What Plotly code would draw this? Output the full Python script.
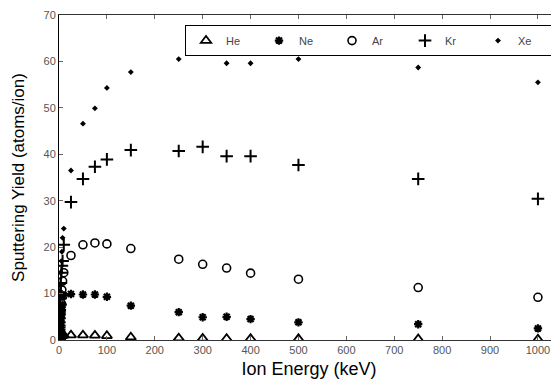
import plotly.graph_objects as go

# Energies (keV)
low_E = [0.05, 0.1, 0.15, 0.2, 0.3, 0.4, 0.5, 0.6, 0.75, 1, 1.25, 1.5, 2, 2.5, 3, 4, 5, 6, 7.5, 10]
high_E = [25, 50, 75, 100, 150, 250, 300, 350, 400, 500, 750, 1000]
xe_high_E = [25, 50, 75, 100, 150, 250, 350, 400, 500, 750, 1000]

he_low = [0.02, 0.04, 0.06, 0.08, 0.12, 0.16, 0.2, 0.24, 0.3, 0.38, 0.45, 0.5, 0.6, 0.68, 0.75, 0.85, 0.9, 0.95, 1.0, 1.05]
he_high = [1.05, 1.05, 1.0, 0.9, 0.6, 0.4, 0.35, 0.3, 0.3, 0.25, 0.2, 0.15]

ne_low = [0.1, 0.2, 0.3, 0.4, 0.6, 0.8, 1.0, 1.2, 1.5, 1.9, 2.3, 2.6, 3.2, 3.7, 4.2, 5.0, 5.8, 6.5, 7.6, 9.6]
ne_high = [9.9, 9.8, 9.8, 9.3, 7.4, 6.0, 4.9, 5.0, 4.5, 3.8, 3.4, 2.5]

ar_low = [0.2, 0.4, 0.6, 0.8, 1.1, 1.4, 1.7, 2.0, 2.5, 3.1, 3.6, 4.1, 5.0, 5.8, 6.6, 8.0, 9.5, 10.8, 12.7, 14.5]
ar_high = [18.2, 20.5, 20.9, 20.7, 19.7, 17.4, 16.3, 15.5, 14.4, 13.1, 11.3, 9.2]

kr_low = [0.3, 0.6, 0.9, 1.2, 1.7, 2.2, 2.7, 3.1, 3.8, 4.7, 5.5, 6.3, 7.7, 8.9, 10.1, 12.3, 14.5, 16.0, 17.0, 20.5]
kr_high = [29.7, 34.7, 37.3, 38.9, 40.9, 40.7, 41.6, 39.6, 39.6, 37.7, 34.7, 30.4]

xe_low = [0.4, 0.7, 1.1, 1.5, 2.1, 2.7, 3.3, 3.8, 4.6, 5.7, 6.7, 7.6, 9.2, 10.6, 12.0, 14.5, 17.0, 19.0, 22.0, 24.0]
xe_high = [36.5, 46.6, 49.9, 54.3, 57.7, 60.5, 59.6, 59.6, 60.5, 58.7, 55.5]

series = [
    ("He", low_E + high_E, he_low + he_high, dict(symbol="triangle-up-open", size=9, line=dict(width=1.8, color="black"))),
    ("Ne", low_E + high_E, ne_low + ne_high, dict(symbol="asterisk-open", size=7, line=dict(width=2.2, color="black"))),
    ("Ar", low_E + high_E, ar_low + ar_high, dict(symbol="circle-open", size=8, line=dict(width=1.6, color="black"))),
    ("Kr", low_E + high_E, kr_low + kr_high, dict(symbol="cross-thin-open", size=9, line=dict(width=2, color="black"))),
    ("Xe", low_E + xe_high_E, xe_low + xe_high, dict(symbol="diamond", size=4.5, line=dict(width=0, color="black"))),
]

fig = go.Figure()
for name, x, y, m in series:
    fig.add_trace(go.Scatter(x=x, y=y, mode="markers", name=name, marker=dict(color="black", **m)))

# page body has an 8px margin, so the figure is sized to fit the 559x381 window
fig.update_layout(
    width=551, height=373,
    margin=dict(l=51, r=0, t=7, b=41),
    paper_bgcolor="white", plot_bgcolor="white",
    font=dict(family="Liberation Sans, Arial", color="black"),
    showlegend=True,
    legend=dict(
        orientation="h", x=0.986, y=0.969, xanchor="right", yanchor="top",
        bordercolor="black", borderwidth=1, bgcolor="white",
        font=dict(size=11, color="#444"),
        entrywidth=28, entrywidthmode="pixels", itemwidth=30,
        tracegroupgap=0,
    ),
    xaxis=dict(
        range=[0, 1044], tickvals=list(range(0, 1001, 100)),
        ticks="inside", ticklen=4, tickcolor="#666", showgrid=False, zeroline=False,
        showline=True, linecolor="#333", linewidth=1, mirror="ticks",
        tickfont=dict(size=11, color="#555"),
        automargin=False,
        title=dict(text="Ion Energy (keV)", font=dict(size=18, color="black"), standoff=7),
    ),
    yaxis=dict(
        range=[0, 70], tickvals=list(range(0, 71, 10)),
        ticks="inside", ticklen=4, tickcolor="#666", showgrid=False, zeroline=False,
        showline=True, linecolor="black", linewidth=1,
        tickfont=dict(size=11, color="#555"),
        automargin=False,
        title=dict(text="Sputtering Yield (atoms/ion)", font=dict(size=17, color="black"), standoff=14),
    ),
)

fig.write_html("out.html")
